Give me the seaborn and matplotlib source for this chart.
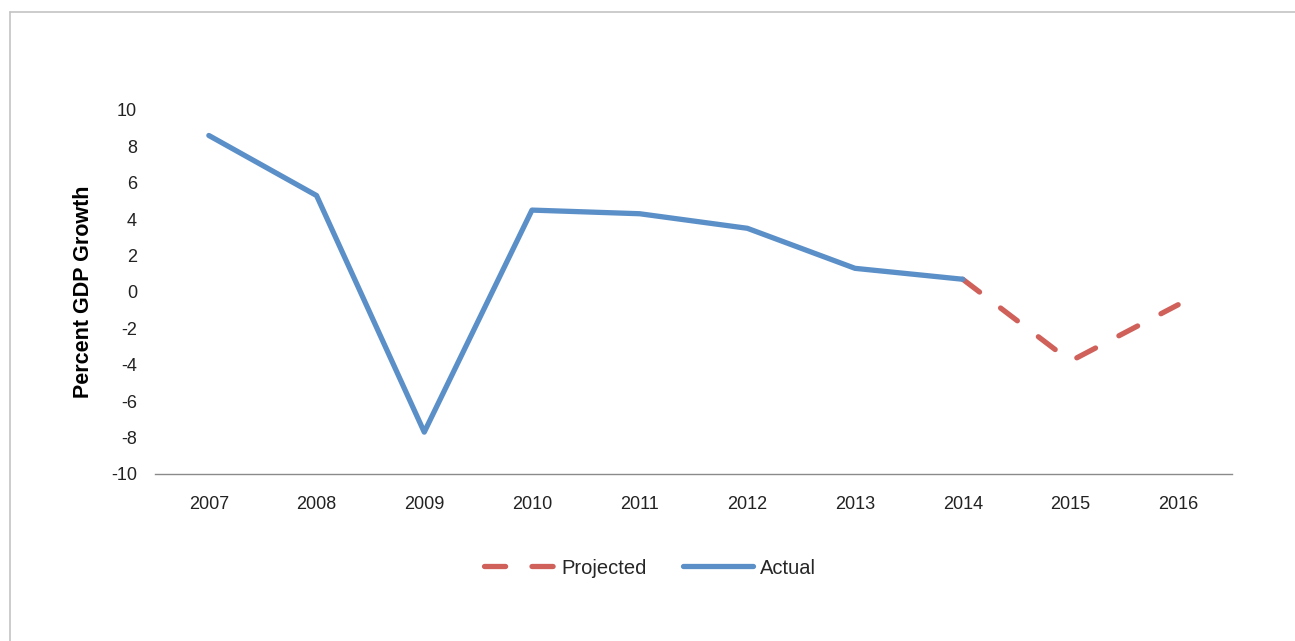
import matplotlib
matplotlib.use("Agg")
import matplotlib.pyplot as plt
from matplotlib.lines import Line2D
import seaborn as sns
import pandas as pd

years_actual = [2007, 2008, 2009, 2010, 2011, 2012, 2013, 2014]
gdp_actual = [8.6, 5.3, -7.7, 4.5, 4.3, 3.5, 1.3, 0.7]
years_projected = [2014, 2015, 2016]
gdp_projected = [0.7, -3.8, -0.7]
year_ticks = [2007, 2008, 2009, 2010, 2011, 2012, 2013, 2014, 2015, 2016]
y_ticks = [-10, -8, -6, -4, -2, 0, 2, 4, 6, 8, 10]

BLUE = "#5b8fc8"
RED = "#d0605a"

sns.set_theme(style="white")
plt.rcParams['font.family'] = ['Liberation Sans', 'DejaVu Sans']

fig = plt.figure(figsize=(12.95, 6.41), dpi=100)
ax = fig.add_axes([155/1295, 1-474/641, (1232-155)/1295, (474-110)/641])

df_a = pd.DataFrame({"year": years_actual, "gdp": gdp_actual})
df_p = pd.DataFrame({"year": years_projected, "gdp": gdp_projected})

sns.lineplot(data=df_p, x="year", y="gdp", ax=ax, color=RED, linewidth=3.8,
             dashes=False, legend=False, zorder=2)
sns.lineplot(data=df_a, x="year", y="gdp", ax=ax, color=BLUE, linewidth=3.8,
             legend=False, zorder=3)
pl = ax.lines[0]
pl.set_dashes((4, 5))
pl.set_dash_capstyle("round")
ax.lines[1].set_solid_capstyle("round")
ax.lines[1].set_solid_joinstyle("round")

ax.set_xlim(2006.5, 2016.5)
ax.set_ylim(-10, 10)
ax.set_xticks(year_ticks)
ax.set_xticklabels([str(y) for y in year_ticks])
ax.set_yticks(y_ticks)
ax.set_yticklabels([str(y) for y in y_ticks])
ax.tick_params(axis="both", length=0, labelsize=13, colors="#222222")
ax.tick_params(axis="x", pad=16)
ax.tick_params(axis="y", pad=13)
ax.set_xlabel("")
ax.set_ylabel("Percent GDP Growth", fontsize=15.5, fontweight="bold", color="black", labelpad=12)

for s in ["top", "right", "left"]:
    ax.spines[s].set_visible(False)
ax.spines["bottom"].set_color("#8a8a8a")
ax.spines["bottom"].set_linewidth(1.0)
ax.grid(False)

handles = [
    Line2D([0], [0], color=RED, linewidth=3.8, dashes=(4, 5), dash_capstyle="round"),
    Line2D([0], [0], color=BLUE, linewidth=3.8, solid_capstyle="round"),
]
fig.legend(handles, ["Projected", "Actual"], loc="center", bbox_to_anchor=(0.502, 1-568/641),
           ncol=2, frameon=False, fontsize=14.5, handlelength=3.5, handletextpad=0.35,
           columnspacing=1.8)

# outer border (top and left)
fig.add_artist(Line2D([10/1295, 1.0], [1-12/641, 1-12/641], transform=fig.transFigure,
                      color="#c4c4c4", linewidth=1.2))
fig.add_artist(Line2D([10/1295, 10/1295], [0.0, 1-12/641], transform=fig.transFigure,
                      color="#c4c4c4", linewidth=1.2))

fig.savefig("out.png", dpi=100)
